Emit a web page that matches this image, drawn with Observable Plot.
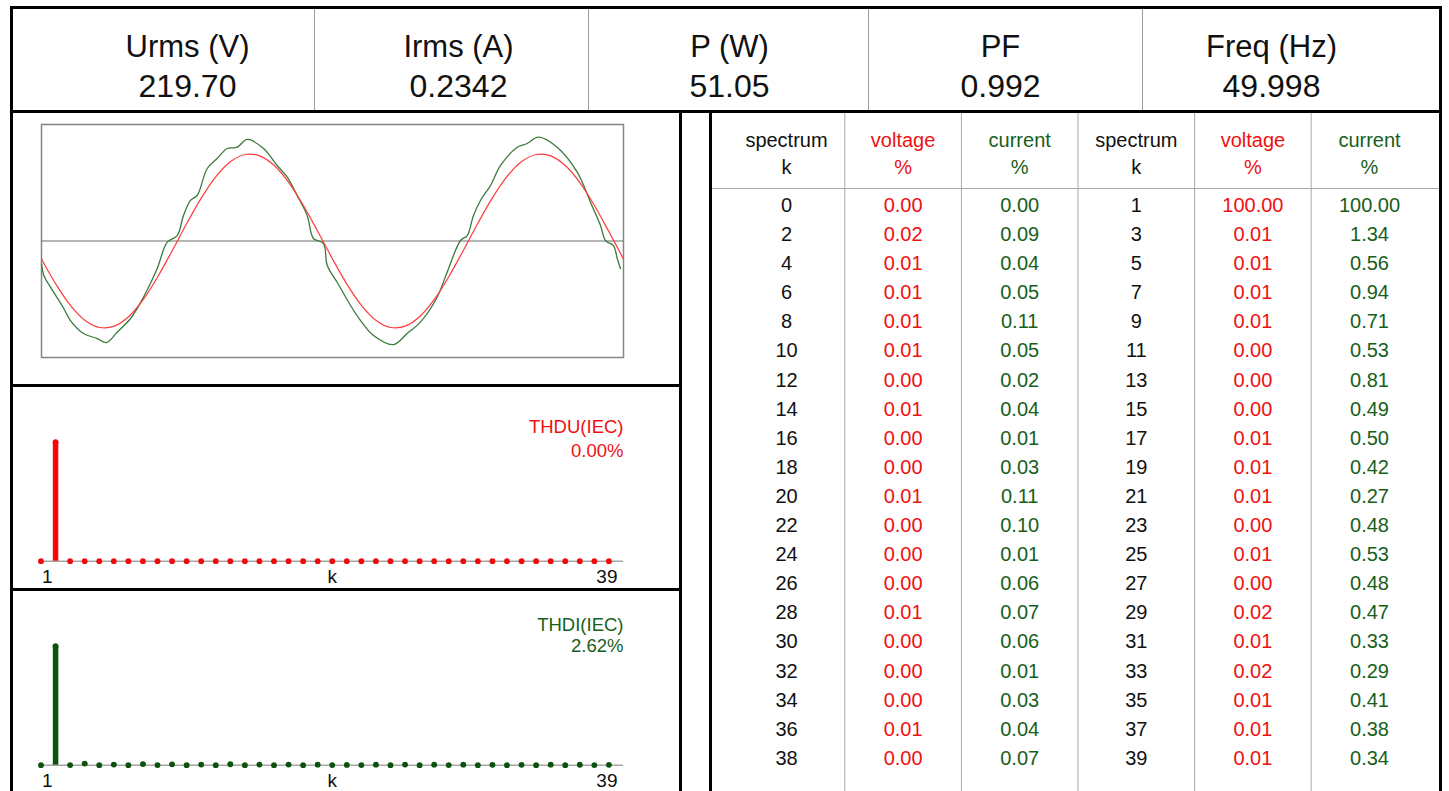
<!DOCTYPE html>
<html>
<head>
<meta charset="utf-8">
<script src="https://cdn.jsdelivr.net/npm/d3@7"></script>
<script src="https://cdn.jsdelivr.net/npm/@observablehq/plot@0.6"></script>
<style>
  body { margin: 0; background: #fff; font-family: "Liberation Sans", Arial, sans-serif; }
  #panel { position: relative; width: 1449px; height: 791px; overflow: hidden; background: #fff; }
  .thick { position: absolute; background: #000; }
  .thin { position: absolute; background: #9c9c9c; }
  .slot { position: absolute; }
  .slot svg { display: block; overflow: visible; }
</style>
</head>
<body>
<div id="panel"></div>
<script>
// ---- readings shown in the header ----
const quantityLabels = ["Urms (V)", "Irms (A)", "P (W)", "PF", "Freq (Hz)"];
const quantityValues = ["219.70", "0.2342", "51.05", "0.992", "49.998"];

// ---- harmonic spectrum, percent of the fundamental ----
const harmonicOrder = [0, 1, 2, 3, 4, 5, 6, 7, 8, 9, 10, 11, 12, 13, 14, 15, 16, 17, 18, 19,
  20, 21, 22, 23, 24, 25, 26, 27, 28, 29, 30, 31, 32, 33, 34, 35, 36, 37, 38, 39];
const voltagePct = [0.00, 100.00, 0.02, 0.01, 0.01, 0.01, 0.01, 0.01, 0.01, 0.01,
  0.01, 0.00, 0.00, 0.00, 0.01, 0.00, 0.00, 0.01, 0.00, 0.01,
  0.01, 0.01, 0.00, 0.00, 0.00, 0.01, 0.00, 0.00, 0.01, 0.02,
  0.00, 0.01, 0.00, 0.02, 0.00, 0.01, 0.01, 0.01, 0.00, 0.01];
const currentPct = [0.00, 100.00, 0.09, 1.34, 0.04, 0.56, 0.05, 0.94, 0.11, 0.71,
  0.05, 0.53, 0.02, 0.81, 0.04, 0.49, 0.01, 0.50, 0.03, 0.42,
  0.11, 0.27, 0.10, 0.48, 0.01, 0.53, 0.06, 0.48, 0.07, 0.47,
  0.06, 0.33, 0.01, 0.29, 0.03, 0.41, 0.04, 0.38, 0.07, 0.34];

const thdLabels = ["THDU(IEC)", "THDI(IEC)"];
const thdValues = ["0.00%", "2.62%"];
const axisTickLabels = ["1", "k", "39"];
const tableHeads = ["spectrum\nk", "voltage\n%", "current\n%", "spectrum\nk", "voltage\n%", "current\n%"];

// ---- waveforms over two mains periods (time in ms, amplitude per unit of voltage peak) ----
const voltageTime = [0, 1, 2, 3, 4, 5, 6, 7, 8, 9, 10, 11, 12, 13, 14, 15, 16, 17, 18, 19, 20,
  21, 22, 23, 24, 25, 26, 27, 28, 29, 30, 31, 32, 33, 34, 35, 36, 37, 38, 39, 40];
const voltageWave = [-0.206, -0.498, -0.742, -0.913, -0.994, -0.979, -0.867, -0.671, -0.408, -0.106,
  0.206, 0.498, 0.742, 0.913, 0.994, 0.979, 0.867, 0.671, 0.408, 0.106,
  -0.206, -0.498, -0.742, -0.913, -0.994, -0.979, -0.867, -0.671, -0.408, -0.106,
  0.206, 0.498, 0.742, 0.913, 0.994, 0.979, 0.867, 0.671, 0.408, 0.106, -0.206];
const currentTime = [0, 0.16, 0.62, 1.53, 1.99, 2.89, 3.83, 4.47, 5.20, 6.12, 7.01, 7.95, 8.64, 9.33,
  9.76, 10.24, 10.70, 11.39, 12.07, 12.76, 13.45, 14.14, 15.26, 16.20, 16.89, 17.57, 18.26, 18.69,
  19.38, 19.64, 20.32, 21.24, 21.93, 22.82, 24.19, 25.13, 26.04, 27.19, 27.88, 28.80, 29.26, 29.69,
  30.17, 30.86, 31.55, 32.70, 33.38, 34.16, 35.44, 36.82, 37.73, 38.42, 38.76, 39.31, 39.57, 39.79];
const currentWave = [-0.262, -0.397, -0.531, -0.776, -0.914, -1.063, -1.121, -1.167, -1.048, -0.891,
  -0.646, -0.316, -0.014, 0.063, 0.293, 0.466, 0.523, 0.833, 0.948, 1.063, 1.078, 1.167, 1.063,
  0.868, 0.733, 0.523, 0.293, 0.029, -0.029, -0.282, -0.474, -0.741, -0.914, -1.086, -1.190,
  -1.063, -0.933, -0.646, -0.359, 0.006, 0.063, 0.293, 0.466, 0.638, 0.868, 1.078, 1.121, 1.193,
  1.078, 0.791, 0.446, 0.178, 0.006, -0.052, -0.201, -0.316];

// ---- styling ----
const FONT = "'Liberation Sans', Arial, sans-serif";
const RED = "#ee1111";
const GREEN = "#17601a";
const BAR_GREEN = "#0b520d";
const INK = "#111";
const plotStyle = {fontFamily: FONT, background: "none", overflow: "visible"};

const panel = document.getElementById("panel");
function rect(cls, left, top, width, height) {
  const d = document.createElement("div");
  d.className = cls;
  Object.assign(d.style, {left: left + "px", top: top + "px", width: width + "px", height: height + "px"});
  panel.appendChild(d);
}
function place(node, left, top) {
  const d = document.createElement("div");
  d.className = "slot";
  d.style.left = left + "px";
  d.style.top = top + "px";
  d.appendChild(node);
  panel.appendChild(d);
}

// ---- panel rulings ----
rect("thick", 10, 6, 1432, 3);     // top border
rect("thick", 10, 6, 3, 800);      // left border
rect("thick", 1439, 6, 3, 800);    // right border
rect("thick", 10, 110, 1432, 3);   // under the header
for (const x of [314, 588, 868, 1142]) rect("thin", x, 9, 1, 101);
rect("thick", 10, 384, 672, 3);    // waveform / THDU
rect("thick", 10, 588, 672, 3);    // THDU / THDI
rect("thick", 679, 110, 3, 700);
rect("thick", 709, 110, 3, 700);

// ---- header readings ----
place(Plot.plot({
  width: 1449, height: 104,
  marginTop: 0, marginBottom: 0, marginLeft: 0, marginRight: 0,
  x: {type: "point", domain: quantityLabels, range: [186, 1271], padding: 0, axis: null},
  style: plotStyle,
  marks: [
    Plot.text(quantityLabels, {x: d => d, frameAnchor: "top", lineAnchor: "middle", dy: 40,
      fontSize: 31, fill: INK, fontFamily: FONT}),
    Plot.text(quantityValues, {x: (d, i) => quantityLabels[i], frameAnchor: "top", lineAnchor: "middle", dy: 79,
      fontSize: 32, fill: INK, fontFamily: FONT})
  ]
}), 0, 7);

// ---- waveform: voltage (red) and current (green) ----
const vPts = voltageTime.map((t, i) => ({t, v: voltageWave[i]}));
const iPts = currentTime.map((t, i) => ({t, v: currentWave[i]}));
place(Plot.plot({
  width: 681, height: 271,
  marginLeft: 41, marginRight: 58, marginTop: 11, marginBottom: 27,
  x: {domain: [0, 40], axis: null},
  y: {domain: [-1.339, 1.339], axis: null},
  style: plotStyle,
  marks: [
    Plot.frame({stroke: "#858585", strokeWidth: 1.5}),
    Plot.ruleY([0], {stroke: "#6e6e6e", strokeWidth: 1.2}),
    Plot.line(iPts, {x: "t", y: "v", stroke: "#3b7a3b", strokeWidth: 1.3, strokeLinejoin: "round", curve: "catmull-rom"}),
    Plot.line(vPts, {x: "t", y: "v", stroke: "#ff3a3a", strokeWidth: 1.2, curve: "catmull-rom"})
  ]
}), 0, 113);

// ---- harmonic bar charts ----
function spectrumPlot(values, color, textColor, label, value, labelDy, valueDy) {
  const textOpts = {fontSize: 19, fill: INK, fontFamily: FONT, dy: 16, lineAnchor: "middle"};
  const thdOpts = {frameAnchor: "top-right", textAnchor: "end", lineAnchor: "middle", fontSize: 18.5, fill: textColor, fontFamily: FONT};
  return Plot.plot({
    width: 681, height: 203,
    marginLeft: 40.5, marginRight: 58, marginTop: 55.7, marginBottom: 28.3,
    x: {domain: [0, 40], axis: null},
    y: {domain: [0, 100], axis: null},
    style: plotStyle,
    marks: [
      Plot.ruleY([0], {stroke: "#a6a6a6", strokeWidth: 1.5}),
      Plot.ruleX(harmonicOrder, {x: k => k, y1: 0, y2: k => values[k], stroke: color, strokeWidth: 5.5}),
      Plot.dot(harmonicOrder, {x: k => k, y: k => values[k], r: 2.9, fill: color, stroke: "none"}),
      Plot.text([axisTickLabels[0]], {...textOpts, frameAnchor: "bottom-left", textAnchor: "start", dx: 1}),
      Plot.text([axisTickLabels[1]], {...textOpts, frameAnchor: "bottom"}),
      Plot.text([axisTickLabels[2]], {...textOpts, frameAnchor: "bottom-right", textAnchor: "end", dx: -6}),
      Plot.text([label], {...thdOpts, dy: labelDy}),
      Plot.text([value], {...thdOpts, dy: valueDy})
    ]
  });
}
place(spectrumPlot(voltagePct, "#f20a0a", RED, thdLabels[0], thdValues[0], -15, 8.5), 0, 386);
place(spectrumPlot(currentPct, BAR_GREEN, GREEN, thdLabels[1], thdValues[1], -21, 0), 0, 589.5);

// ---- harmonic table: even orders on the left, odd orders on the right ----
const rowPitch = 29.1;      // px between table rows
const firstRowOffset = 92;  // px from the table top to the first row
const tableH = 678;
const cells = [];
for (let r = 0; r < 20; r++) {
  const kEven = harmonicOrder[2 * r], kOdd = harmonicOrder[2 * r + 1];
  const rowCells = [
    [String(kEven), INK], [voltagePct[kEven].toFixed(2), RED], [currentPct[kEven].toFixed(2), GREEN],
    [String(kOdd), INK], [voltagePct[kOdd].toFixed(2), RED], [currentPct[kOdd].toFixed(2), GREEN]
  ];
  rowCells.forEach(([text, color], c) => cells.push({col: c + 0.5, row: r, text, color}));
}
const headColors = [INK, RED, GREEN, INK, RED, GREEN];
place(Plot.plot({
  width: 727, height: tableH,
  marginTop: 0, marginBottom: 0, marginLeft: 0, marginRight: 0,
  x: {domain: [0, 6], range: [15.7, 715.3], axis: null},
  y: {domain: [-firstRowOffset / rowPitch, (tableH - firstRowOffset) / rowPitch], range: [0, tableH], axis: null},
  color: {type: "identity"},
  style: plotStyle,
  marks: [
    Plot.ruleX([1, 2, 3, 4, 5], {stroke: "#a8a8a8", strokeWidth: 1}),
    Plot.ruleY([0], {stroke: "#a8a8a8", strokeWidth: 1, dy: -17}),
    Plot.text(tableHeads, {x: (d, i) => i + 0.5, frameAnchor: "top", lineAnchor: "middle", dy: 38, lineHeight: 1.37,
      fill: (d, i) => headColors[i], fontSize: 20, fontFamily: FONT}),
    Plot.text(cells, {x: "col", y: "row", text: "text", fill: "color", fontSize: 20, fontFamily: FONT})
  ]
}), 712, 113);
</script>
</body>
</html>
